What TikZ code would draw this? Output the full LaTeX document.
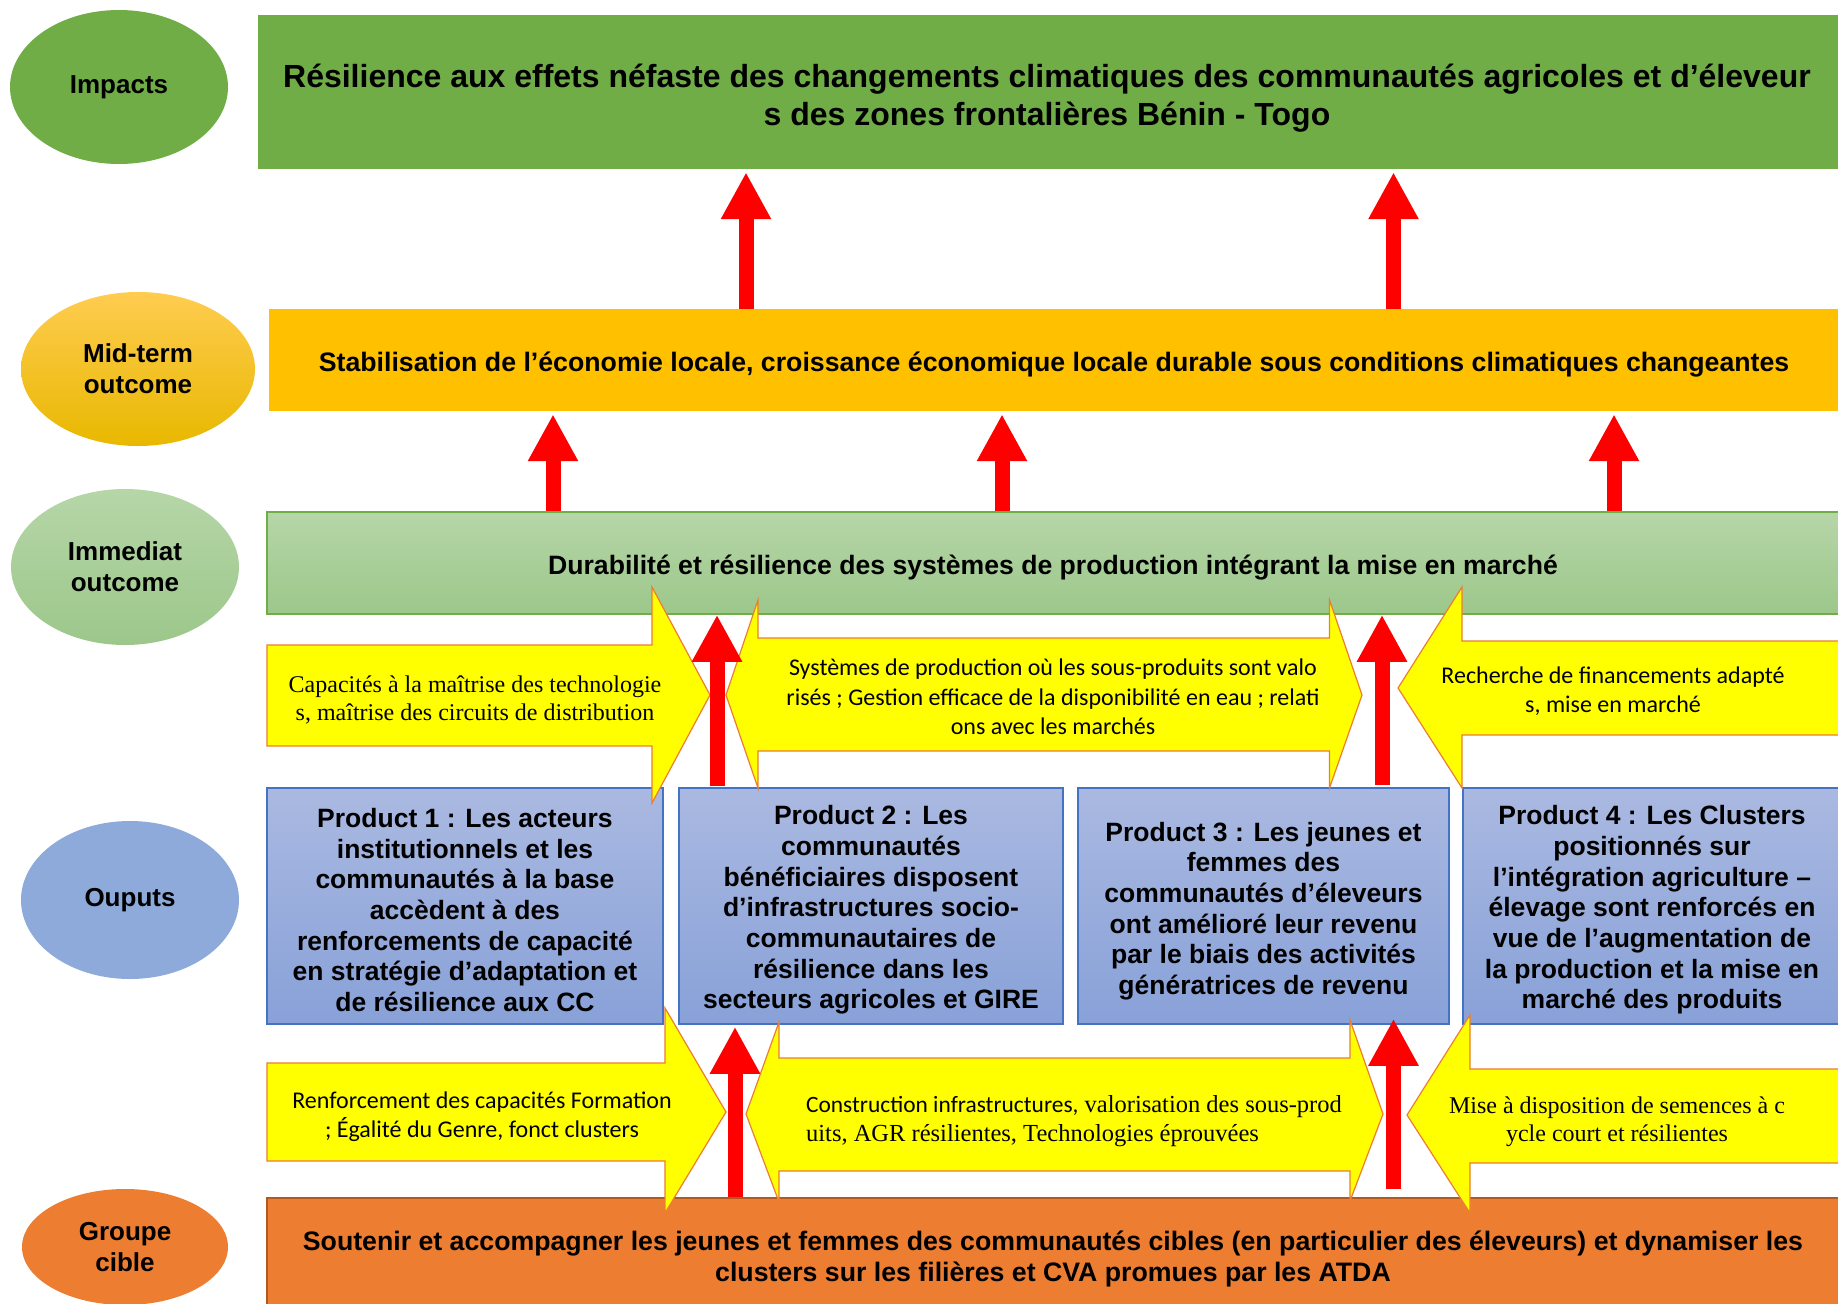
\documentclass[tikz,border=0pt]{standalone}
\usepackage{fontspec}
\setmainfont{Liberation Sans}
\newfontfamily\timesf{Liberation Serif}
\newfontfamily\calib{Carlito}
\usetikzlibrary{shapes.geometric,arrows.meta}

\definecolor{impgreen}{HTML}{70AD47}
\definecolor{midgold}{HTML}{FFC000}
\definecolor{immtop}{HTML}{B6D6A8}
\definecolor{immbot}{HTML}{9CC78A}
\definecolor{prodtop}{HTML}{AAB9E1}
\definecolor{prodbot}{HTML}{88A1D8}
\definecolor{prodline}{HTML}{4472C4}
\definecolor{outblue}{HTML}{8EAADB}
\definecolor{cibleor}{HTML}{ED7D31}
\definecolor{cibleline}{HTML}{AE5A21}
\definecolor{yelfill}{HTML}{FFFF00}
\definecolor{yelline}{HTML}{ED7D31}
\definecolor{redfill}{HTML}{FF0000}

\begin{document}
\begin{tikzpicture}[x=1pt,y=-1pt,
  lvl/.style={ellipse,inner sep=0pt,align=center,font=\fontsize{26}{31}\selectfont\bfseries},
  bigbox/.style={rectangle,inner sep=0pt,align=center,font=\fontsize{26.7}{31}\selectfont\bfseries},
  prodbox/.style={rectangle,draw=prodline,line width=1.5pt,top color=prodtop,bottom color=prodbot,
    inner sep=0pt,minimum height=236pt},
  prodtxt/.style={inner sep=0pt,align=center,font=\fontsize{26.5}{30.7}\selectfont\bfseries},
  yarr/.style={fill=yelfill,draw=yelline,line width=1.2pt},
  ytxt/.style={inner sep=0pt,align=center},
  redarr/.style={draw=redfill,line width=15pt,-{Triangle[length=47pt,width=47pt]}}]
\path[use as bounding box,clip] (0,0) rectangle (1838,1303);

% levels
\node[lvl,fill=impgreen,minimum width=218pt,minimum height=154pt] (limp) at (119,87) {Impacts};
\node[lvl,top color={rgb,255:red,255;green,204;blue,80},bottom color={rgb,255:red,232;green,184;blue,0},
  minimum width=234pt,minimum height=154pt] (lmid) at (138,369) {Mid-term\\outcome};
\node[lvl,top color=immtop,bottom color=immbot,minimum width=228pt,minimum height=156pt] (limm) at (125,567) {Immediat\\outcome};
\node[lvl,fill=outblue,minimum width=218pt,minimum height=158pt] (lout) at (130,900) {Ouputs};
\node[lvl,fill=cibleor,minimum width=206pt,minimum height=116pt] (lcib) at (125,1247) {Groupe\\cible};

% boxes
\node[bigbox,fill=impgreen,minimum width=1584pt,minimum height=154pt] (impact) at (1050,92) {};
\node[font=\fontsize{32}{38}\selectfont\bfseries,align=center,inner sep=0pt] (imptxt) at (1047,98)
  {Résilience aux effets néfaste des changements climatiques des communautés agricoles et d’éleveur\\s des zones frontalières Bénin - Togo};
\node[bigbox,fill=midgold,minimum width=1573pt,minimum height=102pt] (mid) at (1055.5,360) {};
\node[font=\fontsize{26.7}{31}\selectfont\bfseries,inner sep=0pt] (midtxt) at (1054,365)
  {Stabilisation de l’économie locale, croissance économique locale durable sous conditions climatiques changeantes};
\node[bigbox,draw=impgreen,line width=1.5pt,top color=immtop,bottom color=immbot,minimum width=1575pt,minimum height=102pt]
  (immed) at (1054.5,563) {};
\node[font=\fontsize{26.6}{31}\selectfont\bfseries,inner sep=0pt] (immtxt) at (1053,568)
  {Durabilité et résilience des systèmes de production intégrant la mise en marché};
\node[prodbox,minimum width=396pt] (prod1) at (465,906) {};
\node[prodbox,minimum width=384pt] (prod2) at (871,906) {};
\node[prodbox,minimum width=371pt] (prod3) at (1263.5,906) {};
\node[prodbox,minimum width=379pt] (prod4) at (1652.5,906) {};
\node[prodtxt] (p1txt) at (465,910) {Product 1 : Les acteurs\\institutionnels et les\\communautés à la base\\accèdent à des\\renforcements de capacité\\en stratégie d’adaptation et\\de résilience aux CC};
\node[prodtxt] (p2txt) at (871,910) {Product 2 : Les\\communautés\\bénéficiaires disposent\\d’infrastructures socio-\\communautaires de\\résilience dans les\\secteurs agricoles et GIRE};
\node[prodtxt] (p3txt) at (1263.5,911) {Product 3 : Les jeunes et\\femmes des\\communautés d’éleveurs\\ont amélioré leur revenu\\par le biais des activités\\génératrices de revenu};
\node[prodtxt] (p4txt) at (1652,910) {Product 4 : Les Clusters\\positionnés sur\\l’intégration agriculture –\\élevage sont renforcés en\\vue de l’augmentation de\\la production et la mise en\\marché des produits};
\node[bigbox,draw=cibleline,line width=2.5pt,fill=cibleor,minimum width=1575pt,minimum height=114pt] (cible) at (1054.5,1255) {};
\node[font=\fontsize{26.7}{31}\selectfont\bfseries,align=center,inner sep=0pt] (cibtxt) at (1053,1259)
  {Soutenir et accompagner les jeunes et femmes des communautés cibles (en particulier des éleveurs) et dynamiser les\\clusters sur les filières et CVA promues par les ATDA};

% yellow arrows, upper row
\draw[yarr] (267,645) -- (652,645) -- (652,587) -- (710,695) -- (652,803) -- (652,746) -- (267,746) -- cycle;
\draw[yarr] (726,695) -- (758,600) -- (758,638) -- (1329.5,638) -- (1329.5,600) -- (1362,695)
  -- (1329.5,788) -- (1329.5,751) -- (758,751) -- (758,788) -- cycle;
\draw[yarr] (1398,688) -- (1462,587) -- (1462,641) -- (1845,641) -- (1845,735) -- (1462,735) -- (1462,788) -- cycle;
% yellow arrows, lower row
\draw[yarr] (267,1063) -- (665,1063) -- (665,1008) -- (726,1112) -- (665,1213) -- (665,1161) -- (267,1161) -- cycle;
\draw[yarr] (746,1114) -- (779,1022) -- (779,1058) -- (1350,1058) -- (1350,1020) -- (1383,1114)
  -- (1350,1201) -- (1350,1171) -- (779,1171) -- (779,1202) -- cycle;
\draw[yarr] (1407,1115) -- (1470,1015) -- (1470,1069) -- (1845,1069) -- (1845,1163) -- (1470,1163) -- (1470,1213) -- cycle;

\node[ytxt,font=\timesf\fontsize{24}{28}\selectfont] (capa) at (475,700) {Capacités à la maîtrise des technologie\\s, maîtrise des circuits de distribution};
\node[ytxt,font=\calib\fontsize{24}{29.3}\selectfont] (syst) at (1053,697) {Systèmes de production où les sous-produits sont valo\\risés ; Gestion efficace de la disponibilité en eau ; relati\\ons avec les marchés};
\node[ytxt,font=\calib\fontsize{24}{29}\selectfont] (rech) at (1613,691) {Recherche de financements adapté\\s, mise en marché};
\node[ytxt,font=\calib\fontsize{24}{29.3}\selectfont] (renf) at (482,1117) {Renforcement des capacités Formation\\; Égalité du Genre, fonct clusters};
\node[ytxt,align=left,font=\timesf\fontsize{24.5}{29}\selectfont] (constr) at (1074,1121) {{\calib\fontsize{23.4}{29}\selectfont Construction infrastructures,} valorisation des sous-prod\\uits, AGR résilientes, Technologies éprouvées};
\node[ytxt,font=\timesf\fontsize{24}{28}\selectfont] (mise) at (1617,1122) {Mise à disposition de semences à c\\ycle court et résilientes};

% red arrows
\draw[redarr,shorten >=3pt] (mid.north -| 746,0) -- (impact.south -| 746,0);
\draw[redarr,shorten >=3pt] (mid.north -| 1393.5,0) -- (impact.south -| 1393.5,0);
\draw[redarr,shorten >=3pt] (immed.north -| 553,0) -- (mid.south -| 553,0);
\draw[redarr,shorten >=3pt] (immed.north -| 1002,0) -- (mid.south -| 1002,0);
\draw[redarr,shorten >=3pt] (immed.north -| 1614,0) -- (mid.south -| 1614,0);
\draw[redarr,shorten <=1pt] (prod2.north -| 717,0) -- (immed.south -| 717,0);
\draw[redarr,shorten <=2pt] (prod3.north -| 1382,0) -- (immed.south -| 1382,0);
\draw[redarr,shorten >=2pt] (cible.north -| 735,0) -- (prod2.south -| 735,0);
\draw[redarr,shorten <=8pt,shorten >=-6pt] (cible.north -| 1393.5,0) -- (prod3.south -| 1393.5,0);
\end{tikzpicture}
\end{document}
